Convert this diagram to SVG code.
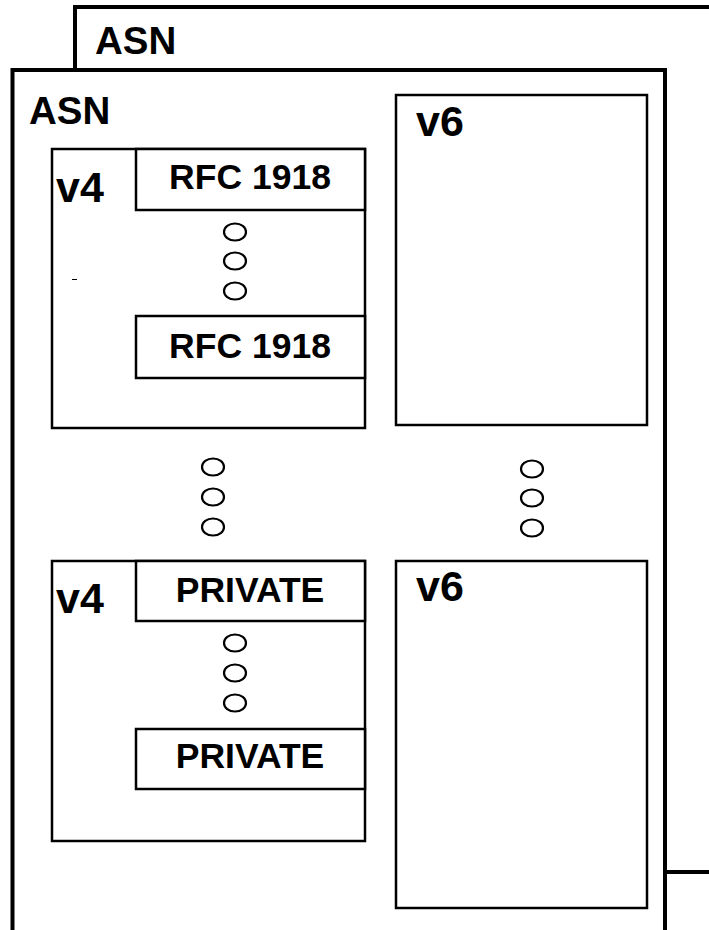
<svg xmlns="http://www.w3.org/2000/svg" width="709" height="930" viewBox="0 0 709 930">
<style>
.thick{fill:none;stroke:#000;stroke-width:4}
.box{fill:#fff;stroke:#000;stroke-width:2.5}
.dot{fill:none;stroke:#000;stroke-width:2.2}
.t{font-family:"Liberation Sans",Arial,sans-serif;font-weight:bold;fill:#000}
.asn{font-size:38.5px}
.ver{font-size:43px}
.lbl{font-size:35.5px;text-anchor:middle}
</style>
<rect width="709" height="930" fill="#fff"/>
<g id="asn-back">
<path class="thick" d="M75,70 V7 H712 M665,872 H712"/>
<text class="t asn" x="95" y="54">ASN</text>
</g>
<g id="asn-front">
<path class="thick" d="M12.5,935 V70 H665 V935"/>
<text class="t asn" x="29" y="124">ASN</text>
</g>
<g id="v4-top">
<rect class="box" x="52" y="149" width="313" height="279"/>
<text class="t ver" x="56" y="202">v4</text>
</g>
<g id="rfc1918-1">
<rect class="box" x="136" y="149" width="229" height="61"/>
<text class="t lbl" x="250" y="189">RFC 1918</text>
</g>
<g id="rfc1918-2">
<rect class="box" x="136" y="316" width="229" height="62"/>
<text class="t lbl" x="250" y="358">RFC 1918</text>
</g>
<g id="v6-top">
<rect class="box" x="396" y="95" width="251" height="330"/>
<text class="t ver" x="416" y="136">v6</text>
</g>
<g id="v4-bottom">
<rect class="box" x="52" y="561" width="313" height="280"/>
<text class="t ver" x="56" y="613">v4</text>
</g>
<g id="private-1">
<rect class="box" x="136" y="561" width="229" height="60"/>
<text class="t lbl" x="250" y="602">PRIVATE</text>
</g>
<g id="private-2">
<rect class="box" x="136" y="729" width="229" height="60"/>
<text class="t lbl" x="250" y="768">PRIVATE</text>
</g>
<g id="v6-bottom">
<rect class="box" x="396" y="561" width="251" height="347"/>
<text class="t ver" x="416" y="601">v6</text>
</g>
<g id="ellipsis">
<ellipse class="dot" cx="235" cy="232" rx="11" ry="8.5"/>
<ellipse class="dot" cx="235" cy="261" rx="11" ry="8.5"/>
<ellipse class="dot" cx="235" cy="291" rx="11" ry="8.5"/>
<ellipse class="dot" cx="213" cy="467" rx="11" ry="8.5"/>
<ellipse class="dot" cx="213" cy="497" rx="11" ry="8.5"/>
<ellipse class="dot" cx="213" cy="527" rx="11" ry="8.5"/>
<ellipse class="dot" cx="532" cy="469" rx="11" ry="8.5"/>
<ellipse class="dot" cx="532" cy="498" rx="11" ry="8.5"/>
<ellipse class="dot" cx="532" cy="528" rx="11" ry="8.5"/>
<ellipse class="dot" cx="235" cy="643" rx="11" ry="8.5"/>
<ellipse class="dot" cx="235" cy="673" rx="11" ry="8.5"/>
<ellipse class="dot" cx="235" cy="703" rx="11" ry="8.5"/>
<line x1="72" y1="279.5" x2="77" y2="279.5" stroke="#000" stroke-width="1"/>
</g>
<g id="connectors"></g>
</svg>
